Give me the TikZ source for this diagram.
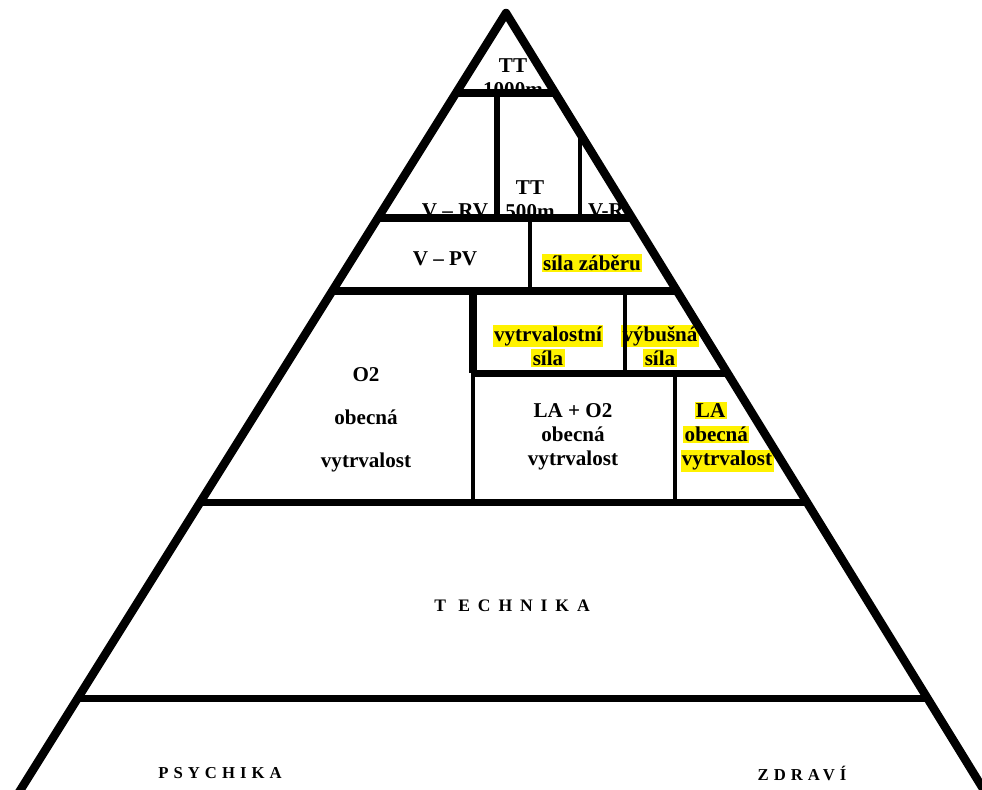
\documentclass[tikz,border=0pt]{standalone}
\usepackage{fontspec}
\setmainfont{Liberation Serif}
\newfontfamily\spacedFont[LetterSpace=45]{Liberation Serif}
\newfontfamily\looseFont[LetterSpace=30]{Liberation Serif}
\usetikzlibrary{positioning}
\tikzstyle{pyramid} = [x = 0.02cm, y = -0.02cm]
\tikzstyle{edgeLine} = [color=black, line width=4.8pt, line join=round]
\tikzstyle{barLine} = [color=black, line width=4pt]
\tikzstyle{wallLine} = [color=black, line width=2.4pt]
\tikzstyle{boxText} = [font=\bfseries\fontsize{12}{13.6}\selectfont, align=center, inner sep=0pt]
\tikzstyle{floorText} = [font=\spacedFont\bfseries\fontsize{10}{12}\selectfont, inner sep=0pt]
\tikzstyle{baseText} = [font=\looseFont\bfseries\fontsize{9.5}{12}\selectfont, inner sep=0pt]
\newcommand{\leftEdge}[1]{506 - 0.625 * (#1 - 13)}
\newcommand{\rightEdge}[1]{506 + 0.615 * (#1 - 13)}
\newcommand{\levelBar}[1]{\draw [barLine] ({\leftEdge{#1}}, #1) -- ({\rightEdge{#1}}, #1);}
\newcommand{\levelBarFrom}[2]{\draw [barLine] (#1, #2) -- ({\rightEdge{#2}}, #2);}
\newcommand{\wall}[4]{\draw [wallLine, line width = #4] (#1, #2) -- (#1, #3);}
\newcommand{\wallFromEdge}[3]{\draw [wallLine, line width = #3] (#1, {13 + (#1 - 506) / 0.615}) -- (#1, #2);}
\newcommand{\hl}[1]{{\setlength{\fboxsep}{0.8pt}\colorbox{yellow}{#1}}}

\begin{document}
\begin{tikzpicture}[pyramid]
  \useasboundingbox (0,0) rectangle (982,789);
  \clip (0,0) rectangle (982,789);

  \node [boxText] (tt1000) at (513, 78) {TT\\1000m};
  \node [boxText] (vrv) at (455, 211) {V -- RV};
  \node [boxText] (tt500) at (530, 200) {TT\\500m};
  \node [boxText] (vr) at (606, 211) {V-R};
  \node [boxText] (vpv) at (445, 259) {V -- PV};
  \node [boxText] (zaber) at (592, 263) {\hl{síla záběru}};
  \node [boxText] (vytrSila) at (548, 346) {\hl{vytrvalostní}\\\hl{síla}};
  \node [boxText] (vybSila) at (660, 346) {\hl{výbušná}\\\hl{síla}};
  \node [boxText] (oxygen) at (366, 420) {O2\\[11pt]obecná\\[11pt]vytrvalost};
  \node [boxText] (mixed) at (573, 437) {LA + O2\\obecná\\vytrvalost};
  \node [boxText, align=left] (lactate) at (727, 437) {\hspace*{8pt}\hl{LA}\\\hspace*{1.6pt}\hl{obecná}\\\hl{vytrvalost}};
  \node [floorText] (technika) at (512, 606) {T ECHNIKA};
  \node [baseText] (psychika) at (220, 773) {PSYCHIKA};
  \node [baseText] (zdravi) at (802, 773) {ZDRAVÍ};

  \levelBar{93}
  \levelBar{218}
  \levelBar{291}
  \levelBarFrom{473}{373}
  \levelBar{502}
  \levelBar{698}

  \wall{497}{93}{218}{3.4pt}
  \wallFromEdge{580}{218}{2.8pt}
  \wall{530}{218}{291}{2.8pt}
  \wall{473}{291}{373}{4pt}
  \wall{473}{373}{502}{2.3pt}
  \wall{625}{291}{373}{2.3pt}
  \wall{675}{373}{502}{2.3pt}

  \draw [edgeLine] ({\leftEdge{800}}, 800) -- (506, 13) -- ({\rightEdge{800}}, 800);
\end{tikzpicture}
\end{document}
